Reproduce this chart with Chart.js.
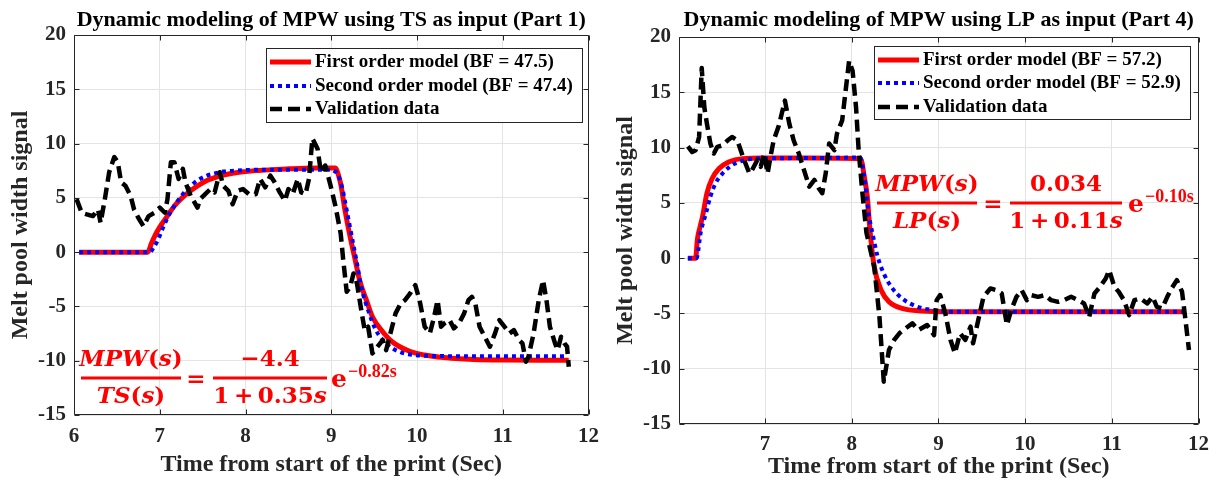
<!DOCTYPE html>
<html lang="en">
<head>
  <meta charset="UTF-8" />
  <title>Dynamic modeling of MPW</title>
  <script src="https://cdn.jsdelivr.net/npm/chart.js"></script>
  <style>
    body { margin: 0; background: #fff; }
    .panel { position: absolute; top: 0; height: 481px; }
    #left { left: 0; width: 608px; }
    #right { left: 608px; width: 609px; }
  </style>
</head>
<body>
  <div class="panel" id="left"><canvas id="tsChart"></canvas></div>
  <div class="panel" id="right"><canvas id="lpChart"></canvas></div>

  <script>
    // ---- Part 1 : TS as input ----
    const tsFirstT = [6.06, 6.86, 6.90, 6.94, 7.00, 7.06, 7.12, 7.17, 7.26, 7.36, 7.45, 7.55, 7.65, 7.74, 7.85, 7.97, 8.15, 8.31, 8.50, 8.69, 8.85, 9.05, 9.08, 9.11, 9.16, 9.22, 9.28, 9.33, 9.41, 9.48, 9.60, 9.71, 9.90, 10.09, 10.28, 10.45, 10.66, 11.04, 11.40, 11.77];
    const tsFirstY = [0, 0, 0.75, 1.46, 2.3, 3.0, 3.7, 4.25, 5.0, 5.65, 6.15, 6.6, 6.88, 7.1, 7.27, 7.4, 7.52, 7.6, 7.67, 7.73, 7.75, 7.75, 7.2, 6.3, 3.87, 1.41, -0.74, -2.58, -4.42, -5.95, -7.33, -8.25, -9.08, -9.48, -9.69, -9.8, -9.88, -9.94, -9.96, -9.96];

    const tsSecondT = [6.06, 6.88, 6.93, 6.98, 7.03, 7.09, 7.15, 7.21, 7.28, 7.36, 7.45, 7.55, 7.64, 7.74, 7.90, 8.12, 8.50, 9.00, 9.04, 9.07, 9.125, 9.18, 9.24, 9.30, 9.35, 9.43, 9.52, 9.64, 9.79, 9.98, 10.28, 10.80, 11.30, 11.76];
    const tsSecondY = [0, 0, 0.45, 1.15, 2.1, 3.17, 4.0, 4.72, 5.45, 6.1, 6.65, 7.05, 7.25, 7.42, 7.52, 7.58, 7.6, 7.6, 7.45, 7.24, 6.0, 3.87, 1.41, -1.04, -3.19, -5.34, -7.18, -8.4, -9.17, -9.48, -9.57, -9.6, -9.6, -9.6];

    const tsValidT = [6.03, 6.09, 6.15, 6.22, 6.28, 6.31, 6.36, 6.41, 6.47, 6.51, 6.55, 6.60, 6.66, 6.70, 6.75, 6.81, 6.87, 6.94, 7.00, 7.06, 7.09, 7.13, 7.17, 7.22, 7.27, 7.30, 7.36, 7.44, 7.47, 7.53, 7.59, 7.64, 7.70, 7.74, 7.80, 7.85, 7.91, 7.97, 8.04, 8.12, 8.17, 8.23, 8.29, 8.34, 8.40, 8.46, 8.50, 8.55, 8.61, 8.65, 8.70, 8.74, 8.78, 8.84, 8.88, 8.93, 8.99, 9.05, 9.11, 9.14, 9.18, 9.22, 9.26, 9.30, 9.35, 9.39, 9.43, 9.48, 9.54, 9.60, 9.64, 9.69, 9.75, 9.81, 9.86, 9.92, 9.98, 10.03, 10.09, 10.15, 10.20, 10.24, 10.28, 10.32, 10.38, 10.43, 10.49, 10.55, 10.60, 10.64, 10.68, 10.73, 10.79, 10.85, 10.91, 10.96, 11.02, 11.08, 11.13, 11.19, 11.23, 11.27, 11.30, 11.36, 11.42, 11.47, 11.51, 11.55, 11.61, 11.64, 11.68, 11.72, 11.75, 11.77];
    const tsValidY = [4.88, 3.63, 3.48, 3.32, 3.94, 2.7, 4.88, 7.36, 8.76, 8.29, 6.43, 6.12, 5.19, 3.94, 3.17, 2.39, 3.32, 3.63, 4.1, 3.63, 4.88, 8.29, 8.29, 6.74, 7.67, 6.43, 5.19, 4.1, 4.88, 5.34, 5.81, 5.5, 7.36, 6.12, 5.65, 4.41, 5.65, 5.81, 5.34, 5.34, 6.74, 5.96, 7.05, 6.43, 5.5, 4.72, 5.81, 5.34, 6.74, 5.5, 5.34, 6.74, 10.47, 9.53, 7.36, 7.98, 6.2, 4.2, 1.72, -0.74, -3.65, -3.19, -1.96, -2.88, -5.34, -7.18, -6.87, -9.33, -8.71, -8.1, -9.02, -7.48, -5.64, -4.72, -4.42, -3.8, -3.04, -4.42, -6.87, -7.48, -5.95, -4.42, -6.87, -6.56, -6.26, -7.02, -6.56, -5.64, -4.42, -4.11, -4.72, -6.87, -7.79, -8.71, -7.48, -6.26, -6.87, -7.48, -7.18, -8.1, -8.4, -10.09, -9.63, -7.48, -4.42, -2.58, -4.42, -6.87, -8.4, -9.02, -7.79, -8.4, -8.71, -10.55];

    // ---- Part 4 : LP as input ----
    const lpFirstT = [6.11, 6.20, 6.22, 6.25, 6.28, 6.33, 6.39, 6.47, 6.58, 6.74, 6.97, 7.50, 8.10, 8.12, 8.14, 8.18, 8.21, 8.26, 8.34, 8.43, 8.58, 8.81, 9.12, 10.0, 11.0, 11.83];
    const lpFirstY = [0, 0, 1.68, 2.8, 3.77, 5.87, 7.2, 8.1, 8.7, 9.0, 9.05, 9.05, 9.0, 8.6, 7.6, 5.57, 2.6, -0.78, -2.9, -3.95, -4.55, -4.79, -4.85, -4.85, -4.85, -4.85];

    const lpSecondT = [6.11, 6.21, 6.26, 6.32, 6.37, 6.43, 6.51, 6.62, 6.74, 6.89, 7.50, 8.10, 8.12, 8.16, 8.19, 8.24, 8.30, 8.37, 8.47, 8.58, 8.74, 8.93, 9.12, 10.0, 11.0, 11.83];
    const lpSecondY = [0, 0, 2.4, 4.07, 5.57, 6.77, 7.66, 8.41, 8.8, 9.0, 9.05, 9.1, 8.56, 6.47, 4.3, 2.23, 0.12, -1.39, -2.74, -3.64, -4.34, -4.7, -4.85, -4.85, -4.85, -4.85];

    const lpValidT = [6.11, 6.16, 6.20, 6.24, 6.27, 6.30, 6.33, 6.37, 6.41, 6.45, 6.51, 6.57, 6.62, 6.68, 6.72, 6.76, 6.82, 6.85, 6.91, 6.95, 6.99, 7.03, 7.07, 7.10, 7.16, 7.23, 7.28, 7.33, 7.39, 7.45, 7.51, 7.57, 7.62, 7.66, 7.70, 7.74, 7.80, 7.83, 7.89, 7.93, 7.97, 8.01, 8.05, 8.08, 8.12, 8.17, 8.26, 8.32, 8.37, 8.43, 8.49, 8.55, 8.62, 8.70, 8.77, 8.87, 8.95, 8.98, 9.02, 9.08, 9.14, 9.19, 9.25, 9.31, 9.37, 9.40, 9.46, 9.52, 9.60, 9.67, 9.73, 9.79, 9.84, 9.90, 9.96, 10.02, 10.07, 10.15, 10.23, 10.30, 10.38, 10.45, 10.53, 10.61, 10.68, 10.74, 10.80, 10.85, 10.93, 10.97, 11.03, 11.08, 11.14, 11.20, 11.26, 11.33, 11.41, 11.47, 11.52, 11.58, 11.64, 11.69, 11.75, 11.81, 11.85, 11.89];
    const lpValidY = [10.1, 9.6, 9.76, 10.96, 17.2, 13.65, 12.16, 10.36, 9.46, 10.06, 10.2, 10.66, 10.96, 10.66, 9.76, 8.86, 7.66, 7.96, 8.86, 8.26, 9.46, 7.66, 9.46, 10.66, 12.0, 14.25, 12.16, 10.66, 9.46, 7.96, 6.47, 7.07, 6.32, 5.87, 7.66, 10.36, 9.76, 11.26, 12.46, 15.15, 17.84, 16.95, 13.65, 9.76, 6.17, 2.3, -0.78, -5.3, -11.17, -8.3, -7.4, -6.8, -6.36, -5.9, -6.5, -6.05, -6.96, -3.8, -3.34, -5.0, -7.4, -8.6, -6.8, -7.4, -6.2, -7.7, -5.6, -3.5, -2.74, -2.9, -3.19, -6.05, -4.7, -3.5, -2.9, -3.8, -3.34, -3.5, -3.34, -3.8, -3.95, -3.8, -3.5, -3.8, -4.1, -5.3, -3.19, -2.74, -1.84, -1.08, -2.6, -3.04, -3.8, -5.15, -3.8, -3.64, -4.1, -3.5, -4.4, -4.55, -3.5, -2.74, -1.99, -3.04, -5.6, -8.3];

    const yTicks = [-15, -10, -5, 0, 5, 10, 15, 20];
    const tsXTicks = [6, 7, 8, 9, 10, 11, 12];
    const lpXTicks = [7, 8, 9, 10, 11, 12];

    const SERIF = '"Liberation Serif", "Times New Roman", serif';
    const MATH = '"DejaVu Serif", serif';
    const INK = '#262626';

    const toPoints = (t, v) => t.map((x, i) => ({ x: x, y: v[i] }));

    // write a row of [text, italic] runs starting at x
    function runsWidth(ctx, runs, size) {
      let w = 0;
      runs.forEach(([txt, it]) => {
        ctx.font = (it ? 'italic ' : '') + 'bold ' + size + 'px ' + MATH;
        w += ctx.measureText(txt).width;
      });
      return w;
    }
    function drawRuns(ctx, runs, x, y, size) {
      runs.forEach(([txt, it]) => {
        ctx.font = (it ? 'italic ' : '') + 'bold ' + size + 'px ' + MATH;
        ctx.fillText(txt, x, y);
        x += ctx.measureText(txt).width;
      });
    }

    // MATLAB-like axes box, inward ticks, title, legend and transfer function
    const panelPlugin = {
      id: 'panel',
      afterDraw(chart, args, o) {
        const { ctx, chartArea: a } = chart;
        const xs = chart.scales.x, ys = chart.scales.y;
        const L = Math.round(a.left) + 0.5, R = Math.round(a.right) - 0.5;
        const T = Math.round(a.top) + 0.5, B = Math.round(a.bottom) - 0.5;
        ctx.save();

        ctx.strokeStyle = INK;
        ctx.lineWidth = 1;
        ctx.beginPath();
        ctx.rect(L, T, R - L, B - T);
        xs.ticks.forEach(t => {
          const px = Math.round(xs.getPixelForValue(t.value)) + 0.5;
          ctx.moveTo(px, B); ctx.lineTo(px, B - 5);
          ctx.moveTo(px, T); ctx.lineTo(px, T + 5);
        });
        ys.ticks.forEach(t => {
          const py = Math.round(ys.getPixelForValue(t.value)) + 0.5;
          ctx.moveTo(L, py); ctx.lineTo(L + 5, py);
          ctx.moveTo(R, py); ctx.lineTo(R - 5, py);
        });
        ctx.stroke();

        // title
        ctx.fillStyle = '#000';
        ctx.font = 'bold 22px ' + SERIF;
        ctx.textAlign = 'center';
        ctx.textBaseline = 'middle';
        ctx.fillText(o.title, (a.left + a.right) / 2, o.titleY);

        // legend
        const lg = o.legend;
        ctx.fillStyle = '#fff';
        ctx.fillRect(lg.x, lg.y, lg.w, lg.h);
        ctx.strokeStyle = INK;
        ctx.lineWidth = 1;
        ctx.strokeRect(lg.x + 0.5, lg.y + 0.5, lg.w, lg.h);
        ctx.textAlign = 'left';
        chart.data.datasets.forEach((ds, i) => {
          const y = lg.y + lg.rows[i];
          ctx.beginPath();
          ctx.setLineDash(ds.borderDash || []);
          ctx.lineWidth = ds.borderWidth;
          ctx.strokeStyle = ds.borderColor;
          ctx.moveTo(lg.x + 4, y);
          ctx.lineTo(lg.x + 45, y);
          ctx.stroke();
          ctx.setLineDash([]);
          ctx.fillStyle = '#000';
          ctx.font = 'bold 19px ' + SERIF;
          ctx.textBaseline = 'middle';
          ctx.fillText(ds.label, lg.x + 49, y);
        });

        // transfer function
        const eq = o.equation;
        const size = 23;
        ctx.fillStyle = '#ff0000';
        ctx.textBaseline = 'alphabetic';
        ctx.textAlign = 'left';
        eq.fracs.forEach(f => {
          ctx.fillRect(f.l, eq.barY - 1.5, f.r - f.l, 3);
          const cx = (f.l + f.r) / 2;
          drawRuns(ctx, f.num, cx - runsWidth(ctx, f.num, size) / 2, eq.barY - 12, size);
          drawRuns(ctx, f.den, cx - runsWidth(ctx, f.den, size) / 2, eq.barY + 25, size);
        });
        ctx.font = 'bold ' + size + 'px ' + MATH;
        ctx.textAlign = 'center';
        ctx.fillText('=', eq.eqX, eq.barY + 8);
        ctx.textAlign = 'left';
        ctx.font = 'bold 25px ' + MATH;
        ctx.fillText('e', eq.eX, eq.barY + 9);
        const ew = ctx.measureText('e').width;
        ctx.font = 'bold 18px ' + SERIF;
        ctx.fillText(eq.exp, eq.eX + ew + 1, eq.barY - 1);

        ctx.restore();
      }
    };

    function buildChart(id, c) {
      const tickFont = { family: SERIF, size: 21, weight: 'bold' };
      const titleFont = { family: SERIF, size: 24, weight: 'bold' };
      return new Chart(document.getElementById(id), {
        type: 'line',
        data: {
          datasets: [
            {
              label: c.firstLabel,
              data: toPoints(c.firstT, c.firstY),
              borderColor: '#ff0000',
              borderWidth: 5,
              pointRadius: 0,
              cubicInterpolationMode: 'monotone',
              order: 2
            },
            {
              label: c.secondLabel,
              data: toPoints(c.secondT, c.secondY),
              borderColor: '#0000ff',
              borderWidth: 4,
              borderDash: [4, 4],
              pointRadius: 0,
              cubicInterpolationMode: 'monotone',
              order: 1
            },
            {
              label: 'Validation data',
              data: toPoints(c.validT, c.validY),
              borderColor: '#000000',
              borderWidth: 4.5,
              borderDash: [12, 6],
              borderJoinStyle: 'round',
              pointRadius: 0,
              tension: 0,
              order: 0
            }
          ]
        },
        options: {
          responsive: true,
          maintainAspectRatio: false,
          animation: false,
          events: [],
          layout: { padding: c.padding },
          plugins: {
            legend: { display: false },
            tooltip: { enabled: false },
            panel: { title: c.title, titleY: 20, legend: c.legend, equation: c.equation }
          },
          scales: {
            x: {
              type: 'linear',
              min: c.xMin,
              max: 12,
              afterBuildTicks: s => { s.ticks = c.xTicks.map(v => ({ value: v })); },
              afterFit: s => { s.height = c.xHeight; },
              grid: { color: '#e4e4e4', drawTicks: false },
              border: { display: false },
              ticks: { font: tickFont, color: INK, padding: c.xTickPad, maxRotation: 0 },
              title: {
                display: true,
                text: 'Time from start of the print (Sec)',
                font: titleFont,
                color: INK,
                padding: { top: 0, bottom: c.xTitlePad }
              }
            },
            y: {
              min: -15,
              max: 20,
              afterBuildTicks: s => { s.ticks = yTicks.map(v => ({ value: v })); },
              afterFit: s => { s.width = c.yWidth; },
              grid: { color: '#e4e4e4', drawTicks: false },
              border: { display: false },
              ticks: { font: tickFont, color: INK, padding: 8 },
              title: {
                display: true,
                text: 'Melt pool width signal',
                font: titleFont,
                color: INK,
                padding: { top: c.yTitlePad, bottom: 0 }
              }
            }
          }
        },
        plugins: [panelPlugin]
      });
    }

    buildChart('tsChart', {
      title: 'Dynamic modeling of MPW using TS as input (Part 1)',
      firstLabel: 'First order model (BF = 47.5)',
      secondLabel: 'Second order model (BF = 47.4)',
      firstT: tsFirstT, firstY: tsFirstY,
      secondT: tsSecondT, secondY: tsSecondY,
      validT: tsValidT, validY: tsValidY,
      xMin: 6, xTicks: tsXTicks,
      padding: { top: 35, right: 8, bottom: 0, left: 0 },
      yWidth: 74, xHeight: 66, xTickPad: 9, xTitlePad: 2, yTitlePad: 6,
      legend: { x: 266, y: 48, w: 316, h: 74, rows: [14, 38, 61] },
      equation: {
        barY: 378,
        fracs: [
          { l: 81, r: 181, num: [['MPW', 1], ['(', 0], ['s', 1], [')', 0]], den: [['TS', 1], ['(', 0], ['s', 1], [')', 0]] },
          { l: 213, r: 327, num: [['\u22124.4', 0]], den: [['1\u2009+\u20090.35', 0], ['s', 1]] }
        ],
        eqX: 196, eX: 331, exp: '\u22120.82s'
      }
    });

    buildChart('lpChart', {
      title: 'Dynamic modeling of MPW using LP as input (Part 4)',
      firstLabel: 'First order model (BF = 57.2)',
      secondLabel: 'Second order model (BF = 52.9)',
      firstT: lpFirstT, firstY: lpFirstY,
      secondT: lpSecondT, secondY: lpSecondY,
      validT: lpValidT, validY: lpValidY,
      xMin: 6.008, xTicks: lpXTicks,
      padding: { top: 37, right: 14, bottom: 0, left: 0 },
      yWidth: 71, xHeight: 57, xTickPad: 8, xTitlePad: 0, yTitlePad: 3,
      legend: { x: 266, y: 46, w: 316, h: 73, rows: [14, 37, 61] },
      equation: {
        barY: 203,
        fracs: [
          { l: 269, r: 369, num: [['MPW', 1], ['(', 0], ['s', 1], [')', 0]], den: [['LP', 1], ['(', 0], ['s', 1], [')', 0]] },
          { l: 402, r: 514, num: [['0.034', 0]], den: [['1\u2009+\u20090.11', 0], ['s', 1]] }
        ],
        eqX: 385, eX: 520, exp: '\u22120.10s'
      }
    });
  </script>
</body>
</html>
